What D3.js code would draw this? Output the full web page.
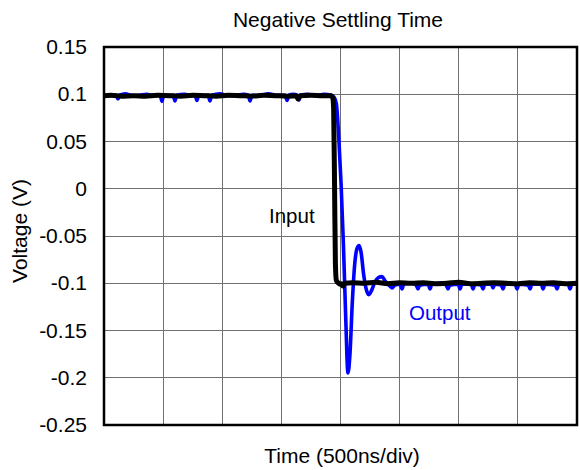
<!DOCTYPE html>
<html>
<head>
<meta charset="utf-8">
<script src="https://cdn.jsdelivr.net/npm/d3@7"></script>
<style>
  html, body { margin: 0; padding: 0; background: #fff; }
  svg { display: block; font-family: "Liberation Sans", Arial, sans-serif; }
</style>
</head>
<body>
<svg id="chart" width="580" height="470"></svg>
<script>
// ---- data ----
const yTickValues = [0.15, 0.1, 0.05, 0, -0.05, -0.1, -0.15, -0.2, -0.25];
const yTickLabels = ["0.15", "0.1", "0.05", "0", "-0.05", "-0.1", "-0.15", "-0.2", "-0.25"];
const xGridValues = [0, 500, 1000, 1500, 2000, 2500, 3000, 3500, 4000]; // ns, 500ns/div

const outputTime = [0, 40, 103, 118, 133, 180, 240, 300, 360, 420, 475, 490, 505, 585, 600, 615, 680, 740, 771, 786, 801, 881, 896, 911, 980, 1050, 1120, 1180, 1220, 1235, 1250, 1320, 1390, 1460, 1533, 1548, 1563, 1600, 1634, 1649, 1664, 1720, 1790, 1860, 1920, 1945, 1965, 1985, 2005, 2025, 2045, 2063, 2080, 2100, 2120, 2140, 2158, 2175, 2195, 2215, 2240, 2265, 2290, 2320, 2351, 2380, 2410, 2436, 2460, 2505, 2520, 2535, 2600, 2640, 2655, 2670, 2742, 2757, 2772, 2850, 2894, 2909, 2924, 2996, 3011, 3026, 3106, 3121, 3136, 3190, 3205, 3220, 3275, 3290, 3305, 3359, 3374, 3389, 3478, 3493, 3508, 3588, 3603, 3618, 3698, 3713, 3728, 3816, 3831, 3846, 3926, 3941, 3956, 4000];
const outputVolt = [0.099, 0.0985, 0.099, 0.095, 0.099, 0.1005, 0.0985, 0.099, 0.1, 0.0985, 0.099, 0.0925, 0.099, 0.099, 0.093, 0.099, 0.1, 0.0985, 0.099, 0.0935, 0.099, 0.099, 0.093, 0.099, 0.1005, 0.0985, 0.099, 0.1, 0.099, 0.093, 0.099, 0.0985, 0.1005, 0.099, 0.099, 0.0935, 0.099, 0.1, 0.099, 0.094, 0.099, 0.1, 0.0985, 0.1, 0.099, 0.097, 0.09, 0.055, 0.005, -0.06, -0.14, -0.195, -0.175, -0.12, -0.08, -0.063, -0.06, -0.068, -0.09, -0.105, -0.112, -0.107, -0.099, -0.094, -0.093, -0.098, -0.102, -0.105, -0.102, -0.101, -0.106, -0.101, -0.1, -0.102, -0.106, -0.102, -0.101, -0.106, -0.101, -0.1, -0.102, -0.106, -0.102, -0.101, -0.106, -0.101, -0.101, -0.106, -0.101, -0.102, -0.106, -0.101, -0.101, -0.105, -0.101, -0.102, -0.106, -0.101, -0.101, -0.106, -0.101, -0.102, -0.106, -0.101, -0.101, -0.106, -0.101, -0.102, -0.106, -0.101, -0.101, -0.106, -0.101, -0.101];

const inputTime = [0, 60, 150, 250, 350, 450, 550, 650, 750, 850, 950, 1050, 1150, 1250, 1350, 1450, 1550, 1625, 1641, 1657, 1750, 1850, 1920, 1935, 1942, 1950, 1957, 1965, 1985, 2000, 2010, 2021, 2035, 2100, 2200, 2300, 2400, 2500, 2600, 2700, 2800, 2900, 3000, 3100, 3200, 3300, 3400, 3500, 3600, 3700, 3800, 3900, 4000];
const inputVolt = [0.0985, 0.099, 0.098, 0.0985, 0.098, 0.099, 0.0985, 0.098, 0.099, 0.0985, 0.098, 0.099, 0.0985, 0.098, 0.099, 0.0985, 0.098, 0.0985, 0.095, 0.0985, 0.099, 0.0985, 0.0985, 0.096, 0.085, 0.0, -0.08, -0.097, -0.1, -0.101, -0.1005, -0.103, -0.1, -0.0995, -0.1, -0.099, -0.1005, -0.0995, -0.1, -0.0995, -0.1005, -0.1, -0.099, -0.1005, -0.1, -0.0995, -0.1, -0.1005, -0.0995, -0.1, -0.0995, -0.1005, -0.1];

// ---- layout ----
const svg = d3.select("#chart");
const pLeft = 104, pRight = 577, pTop = 47, pBottom = 425;
const x = d3.scaleLinear().domain([0, 4000]).range([pLeft, pRight]);
const y = d3.scaleLinear().domain([-0.25, 0.15]).range([pBottom, pTop]);

// grid
svg.append("g").selectAll("line").data(xGridValues).join("line")
  .attr("x1", d => x(d)).attr("x2", d => x(d))
  .attr("y1", pTop).attr("y2", pBottom)
  .attr("stroke", "#707070").attr("stroke-width", 1).attr("shape-rendering", "crispEdges");
svg.append("g").selectAll("line").data(yTickValues).join("line")
  .attr("x1", pLeft).attr("x2", pRight)
  .attr("y1", d => y(d)).attr("y2", d => y(d))
  .attr("stroke", "#707070").attr("stroke-width", 1).attr("shape-rendering", "crispEdges");

// y axis labels
const yAxis = d3.axisLeft(y).tickValues(yTickValues)
  .tickFormat((d, i) => yTickLabels[i]).tickSize(0).tickPadding(17);
const ya = svg.append("g").attr("transform", `translate(${pLeft},0)`).call(yAxis);
ya.select(".domain").remove();
ya.selectAll("text").attr("font-size", 21).attr("fill", "#000")
  .attr("font-family", "'Liberation Sans', Arial, sans-serif");

// lines
const outData = outputTime.map((t, i) => [t, outputVolt[i]]);
const inData = inputTime.map((t, i) => [t, inputVolt[i]]);
const line = d3.line().x(d => x(d[0])).y(d => y(d[1])).curve(d3.curveMonotoneX);

svg.append("clipPath").attr("id", "clip").append("rect")
  .attr("x", pLeft).attr("y", pTop).attr("width", pRight - pLeft).attr("height", pBottom - pTop);

svg.append("path").datum(outData).attr("d", line)
  .attr("fill", "none").attr("stroke", "#0000ff").attr("stroke-width", 3.6)
  .attr("stroke-linejoin", "round").attr("clip-path", "url(#clip)");
svg.append("path").datum(inData).attr("d", line)
  .attr("fill", "none").attr("stroke", "#000").attr("stroke-width", 5)
  .attr("stroke-linejoin", "round").attr("clip-path", "url(#clip)");

// frame
svg.append("rect").attr("x", pLeft).attr("y", pTop)
  .attr("width", pRight - pLeft).attr("height", pBottom - pTop)
  .attr("fill", "none").attr("stroke", "#000").attr("stroke-width", 2.5);

// texts
svg.append("text").attr("x", 338).attr("y", 27).attr("text-anchor", "middle")
  .attr("font-size", 21).text("Negative Settling Time");
svg.append("text").attr("x", 342).attr("y", 463).attr("text-anchor", "middle")
  .attr("font-size", 21).text("Time (500ns/div)");
svg.append("text").attr("transform", "translate(27,231) rotate(-90)").attr("text-anchor", "middle")
  .attr("font-size", 21).text("Voltage (V)");
svg.append("text").attr("x", 269).attr("y", 223).attr("font-size", 20.5).text("Input");
svg.append("text").attr("x", 409).attr("y", 320).attr("font-size", 20.5)
  .attr("fill", "#0000ff").text("Output");
</script>
</body>
</html>
